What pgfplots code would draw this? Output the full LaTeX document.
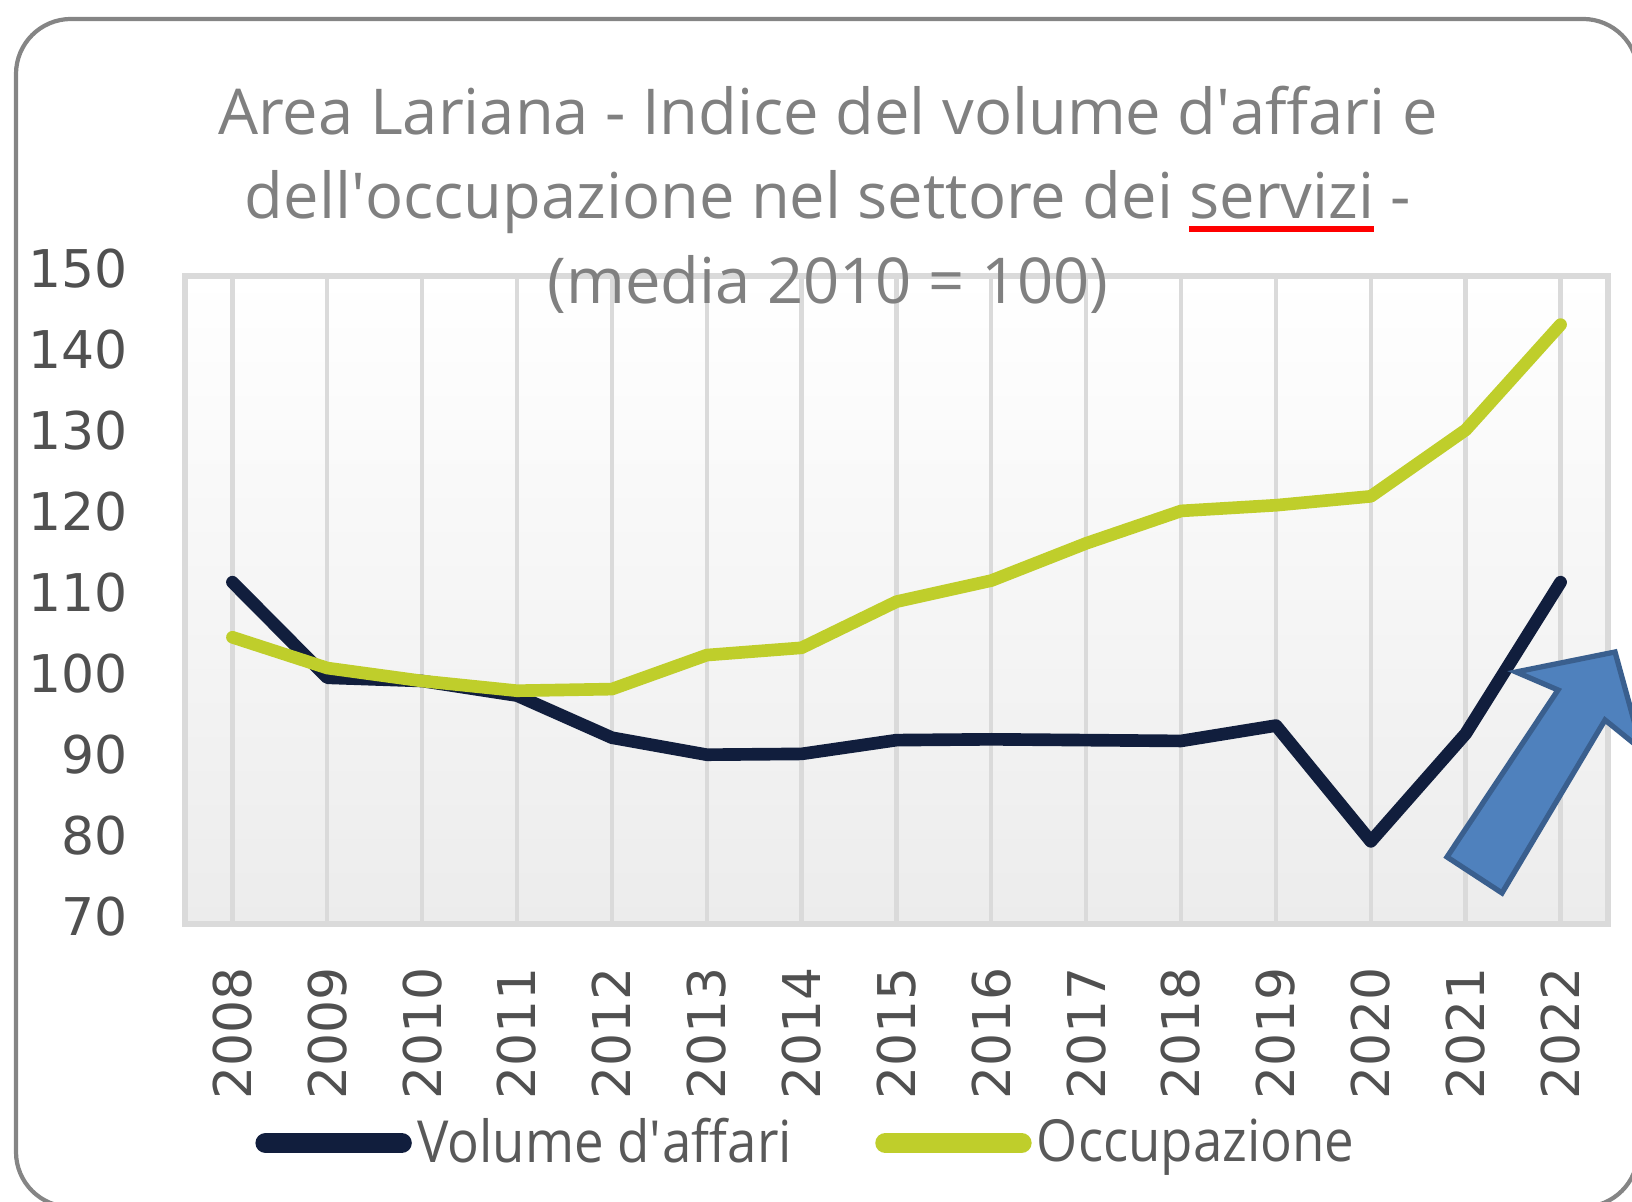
\documentclass[border=0pt]{standalone}
\usepackage{pgfplots}
\pgfplotsset{compat=1.18}
\usepackage{fontspec}
\setmainfont{Open Sans}
\newfontfamily\titlefont{Open Sans}
\newfontfamily\legfont{Open Sans}[FakeStretch=0.91]
\newfontfamily\tickfont{DejaVu Sans}

\definecolor{navy}{HTML}{111E3D}
\definecolor{lime}{HTML}{BFCE2B}
\definecolor{titlegray}{HTML}{808080}
\definecolor{tickgray}{HTML}{505050}
\definecolor{leggray}{HTML}{595959}
\definecolor{gridgray}{HTML}{DADADA}
\definecolor{framegray}{HTML}{858585}
\definecolor{bgbottom}{HTML}{ECECEC}
\definecolor{arrowfill}{HTML}{4F81BD}
\definecolor{arrowdraw}{HTML}{3A5F8E}

\newsavebox\ulbox
\newcommand\redul[1]{\sbox\ulbox{#1}\rlap{\color{red}\rule[-3.6pt]{\wd\ulbox}{1.5pt}}\usebox\ulbox}

\begin{document}
\begin{tikzpicture}
\useasboundingbox (0,0) rectangle (16.32,12.02);
\clip (0,0) rectangle (16.32,12.02);

% cornice arrotondata
\draw[framegray, line width=1.2pt, rounded corners=0.55cm] (0.16,11.83) rectangle (16.38,-0.05);

\begin{axis}[
    at={(1.85cm,2.78cm)}, anchor=south west,
    width=14.23cm, height=6.48cm, scale only axis,
    xmin=2007.5, xmax=2022.5,
    ymin=70, ymax=150,
    xtick={2008,2009,...,2022},
    ytick={70,80,...,150},
    xmajorgrids,
    major grid style={draw=gridgray, line width=1.2pt},
    major tick length=0pt,
    axis line style={draw=gridgray, line width=1.5pt},
    axis background/.style={top color=white, bottom color=bgbottom},
    /pgf/number format/assume math mode=true,
    /pgf/number format/1000 sep={},
    tick label style={font=\tickfont\fontsize{14.8}{16}\selectfont, text=tickgray},
    xticklabel style={rotate=90, anchor=east, inner xsep=12pt},
    yticklabel style={inner xsep=0pt, xshift=-16pt, yshift=2pt},
    legend columns=2,
    legend style={draw=none, fill=none, inner sep=0pt,
        at={(0.049,-0.338)}, anchor=west,
        font=\legfont\fontsize{16.5}{18}\selectfont, text=leggray,
        nodes={inner xsep=1.5pt},
        /tikz/every even column/.append style={column sep=0.78cm}},
    legend image code/.code={\draw[#1, line width=5.8pt, line cap=round] (0cm,0cm) -- (1.36cm,0cm);},
]
\addplot[navy, line width=3.6pt, line join=round, line cap=round] coordinates {
    (2008,112.2) (2009,100.4) (2010,100.0) (2011,98.2) (2012,93.0)
    (2013,90.9) (2014,91.0) (2015,92.7) (2016,92.8) (2017,92.7)
    (2018,92.6) (2019,94.5) (2020,80.2) (2021,93.5) (2022,112.2)
};
\addlegendentry{Volume d\textquotesingle affari}
\addplot[lime, line width=3.6pt, line join=round, line cap=round] coordinates {
    (2008,105.4) (2009,101.6) (2010,100.0) (2011,98.8) (2012,99.0)
    (2013,103.2) (2014,104.1) (2015,109.8) (2016,112.4) (2017,117.0)
    (2018,121.0) (2019,121.7) (2020,122.8) (2021,131.0) (2022,144.0)
};
\addlegendentry{Occupazione}
\end{axis}

% titolo
\begin{scope}[every node/.style={anchor=base, text=titlegray, inner sep=0pt,
    font=\titlefont\fontsize{18}{20}\selectfont}]
\node at (8.28,10.67) {Area Lariana - Indice del volume d\textquotesingle affari e};
\node at (8.28,9.83) {dell\textquotesingle occupazione nel settore dei \redul{servizi} -};
\node at (8.28,8.98) {(media 2010 = 100)};
\end{scope}

% freccia
\draw[fill=arrowfill, draw=arrowdraw, line width=1.5pt, line join=miter]
  (14.47,3.45) -- (15.58,5.12) -- (15.16,5.30) -- (16.15,5.50)
  -- (16.42,4.52) -- (16.05,4.82) -- (15.02,3.09) -- cycle;
\end{tikzpicture}
\end{document}
